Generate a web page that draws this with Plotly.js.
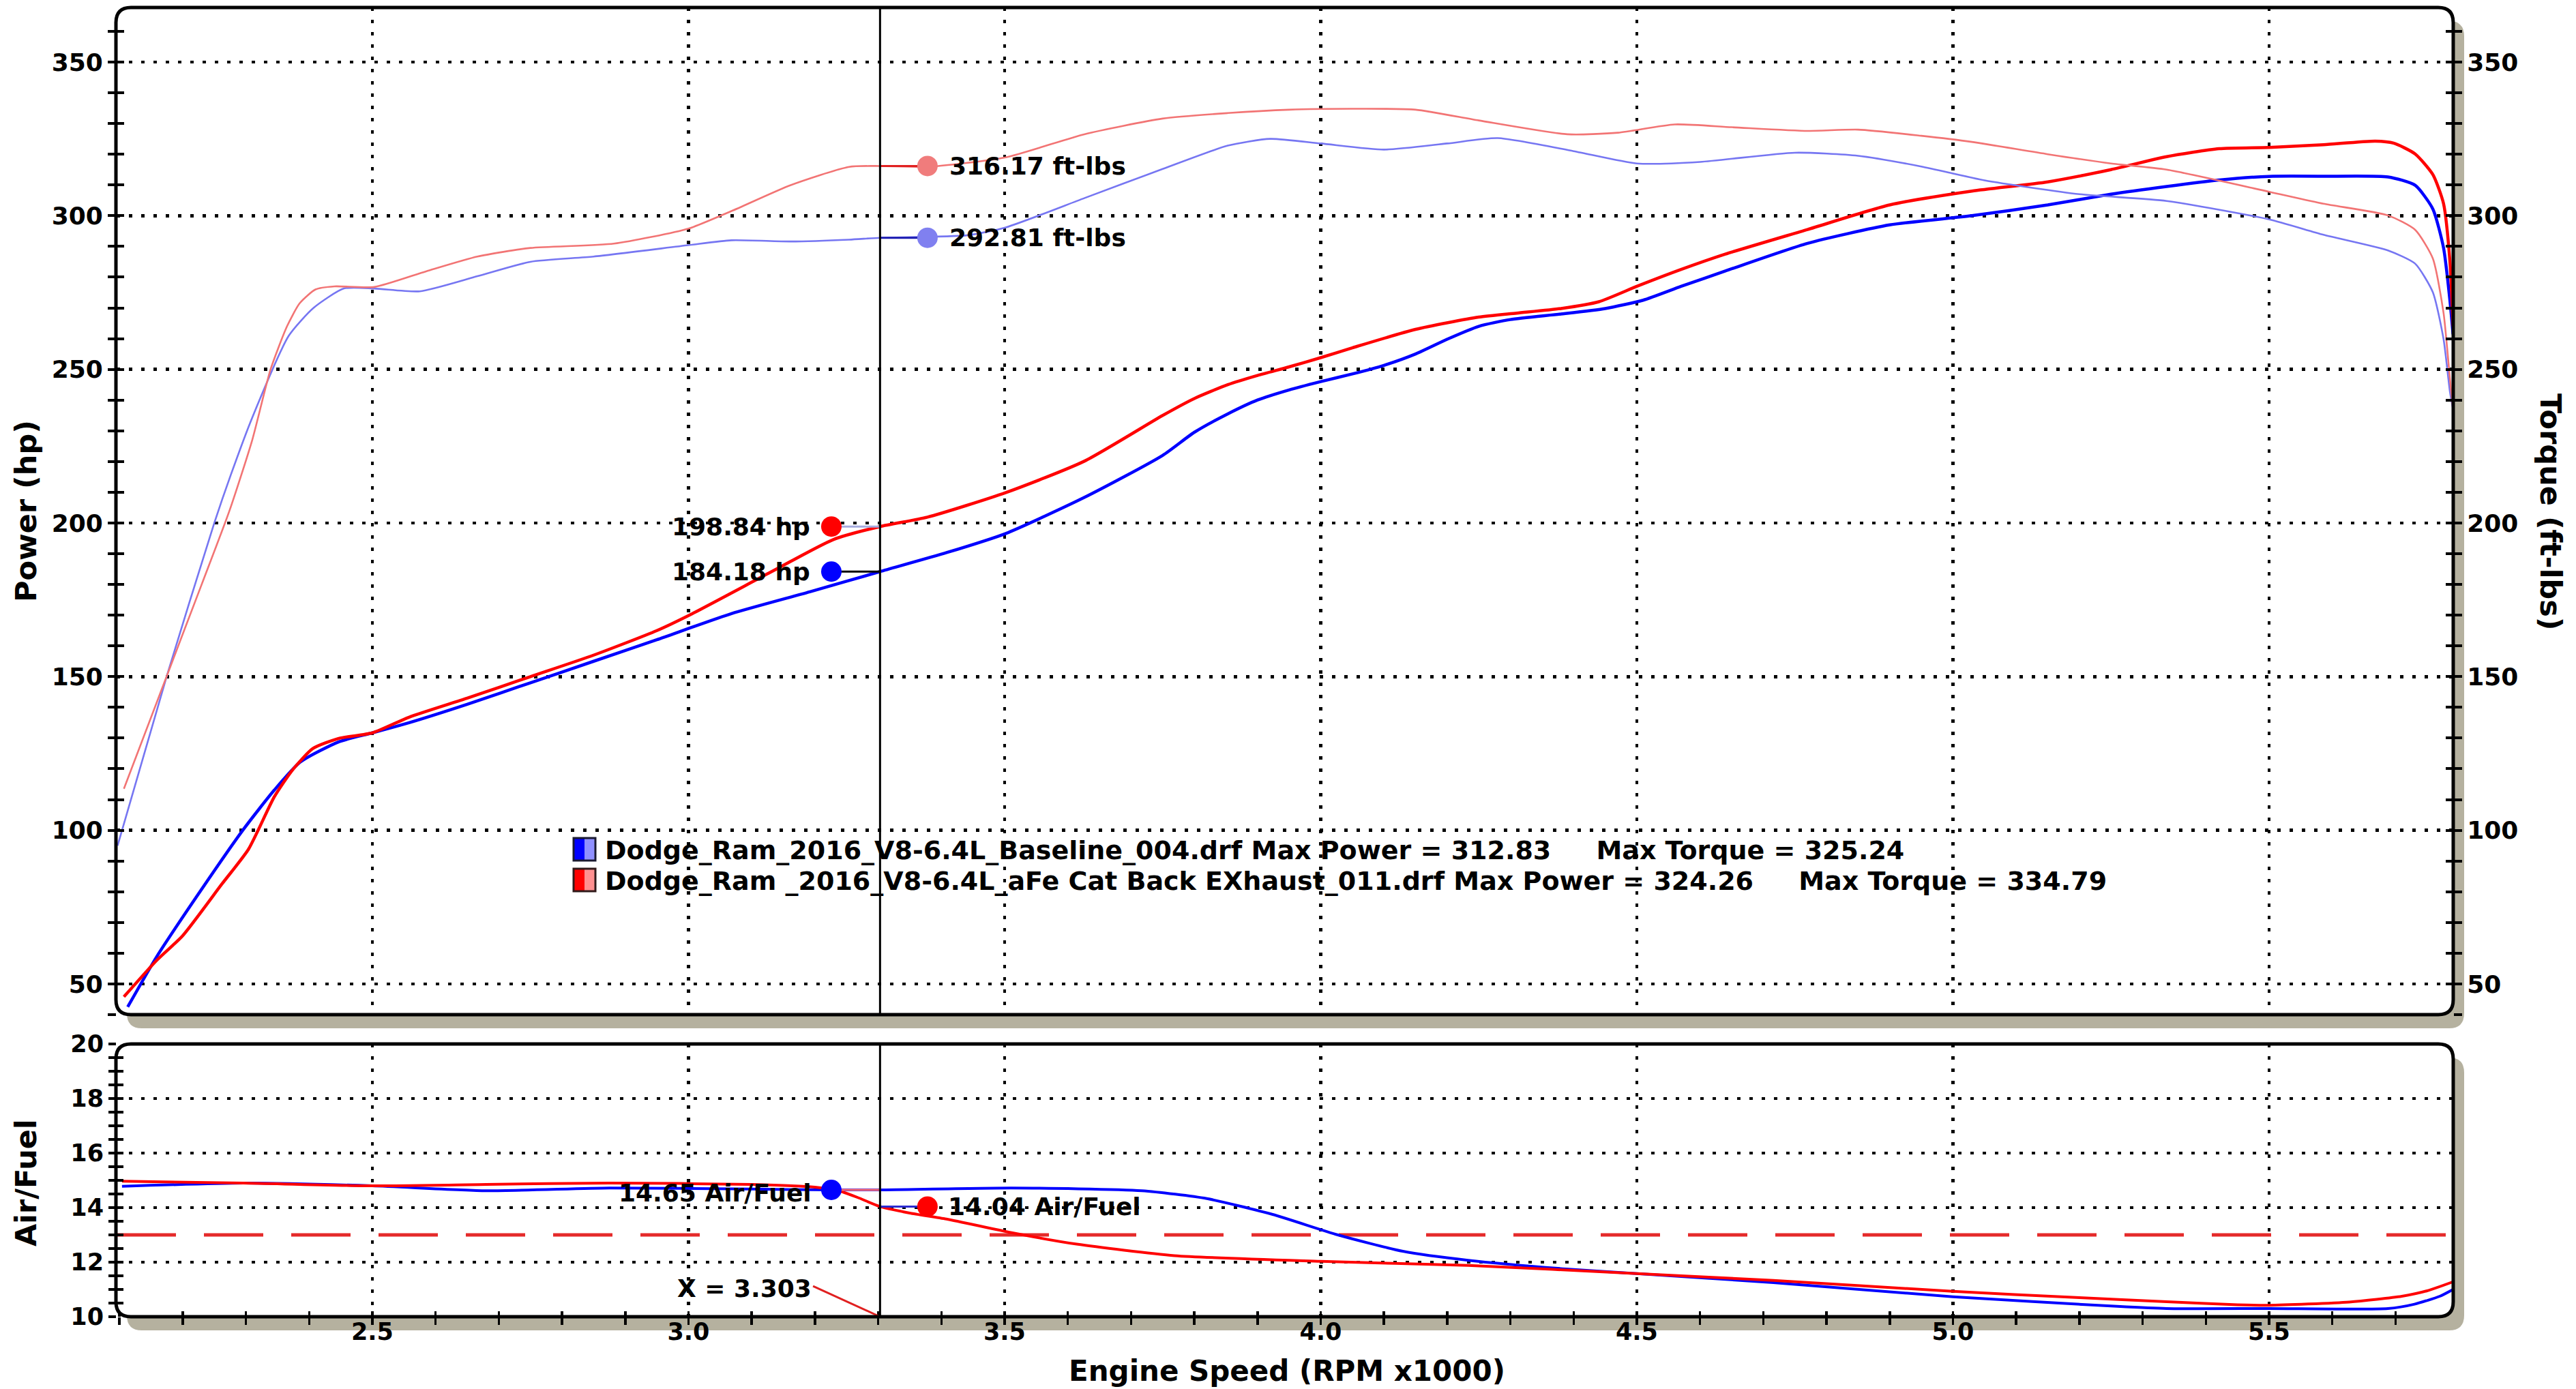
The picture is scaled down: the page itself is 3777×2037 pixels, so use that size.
<!DOCTYPE html>
<html><head><meta charset="utf-8">
<script src="https://cdn.plot.ly/plotly-3.0.1.min.js"></script>
<style>html,body{margin:0;padding:0;background:#fff}#chart{width:3777px;height:2037px}</style>
</head><body><div id="chart"></div>
<script>
// ---------------- DATA ----------------
const rpmPowRed = [2.107,2.159,2.2,2.262,2.304,2.345,2.374,2.406,2.447,2.5,2.558,2.65,2.75,2.85,2.95,3.006,3.13,3.229,3.303,3.378,3.502,3.626,3.75,3.8,3.853,3.9,3.95,4.0,4.05,4.15,4.25,4.31,4.38,4.44,4.5,4.57,4.64,4.77,4.9,5.03,5.15,5.25,5.338,5.421,5.5,5.586,5.668,5.697,5.731,5.759,5.776,5.786,5.791];
const powRed    = [45.8,57.7,65.7,82.5,93.8,110.9,119.7,126.6,129.9,131.7,136.8,143,150,157,165,170.5,184,194.6,198.84,201.9,209.9,220.1,235,240.5,245,248,250.8,253.8,257,263,267,268.3,269.8,272,277,282.5,287.5,295.5,303.5,308,311,315,319.2,321.8,322.2,323.1,324.26,323.6,320.1,313.4,303.9,285.3,264];

const rpmPowBlue = [2.113,2.159,2.221,2.295,2.345,2.386,2.447,2.5,2.558,2.65,2.75,2.85,2.95,3.068,3.192,3.303,3.409,3.502,3.626,3.75,3.8,3.853,3.9,3.95,4.0,4.05,4.1,4.15,4.2,4.25,4.3,4.38,4.45,4.51,4.57,4.64,4.77,4.9,5.03,5.15,5.25,5.338,5.421,5.5,5.586,5.688,5.731,5.759,5.776,5.786,5.791];
const powBlue    = [42.5,58.9,78.1,100,113.1,122.2,128.8,131.7,135,141,148,155,162,170.5,177.6,184.18,190.4,196.6,208.3,222,229.5,235.5,240,243.3,246,248.5,251.3,255,259.8,264,266.2,268,269.8,272.5,277,282,291,297,300,303.5,307,309.5,311.6,312.8,312.83,312.6,309.9,302.2,289.5,272.5,261.4];

const rpmTqRed = [2.107,2.175,2.23,2.274,2.31,2.339,2.365,2.385,2.41,2.44,2.503,2.585,2.666,2.75,2.882,3.0,3.068,3.161,3.254,3.303,3.378,3.502,3.626,3.75,3.853,3.95,4.05,4.15,4.25,4.39,4.47,4.56,4.65,4.77,4.85,4.95,5.03,5.15,5.25,5.338,5.5,5.586,5.688,5.731,5.759,5.776,5.786,5.791];
const tqRed    = [113.5,150.3,180,204,227,250,264,271.5,276,277,276.8,281.9,286.7,289.5,290.9,295.8,301.5,309.9,315.9,316.17,315.9,319,326.5,331.6,333.4,334.5,334.79,334.5,331,326.5,327,329.7,328.8,327.6,328,326,324,320,317,315,307.8,303.9,300.1,295.4,286.1,268.3,247,237];

const rpmTqBlue = [2.097,2.175,2.25,2.276,2.31,2.368,2.407,2.455,2.503,2.575,2.666,2.75,2.85,3.0,3.068,3.161,3.254,3.303,3.44,3.502,3.626,3.75,3.853,3.92,4.0,4.1,4.2,4.28,4.4,4.5,4.6,4.75,4.85,4.95,5.05,5.2,5.338,5.5,5.586,5.688,5.731,5.759,5.776,5.786,5.791];
const tqBlue    = [95,150.3,200,215.6,234.3,261,270,276.3,276.3,275.4,280.3,285,286.7,290.4,292,291.6,292.2,292.81,293.6,296.2,305.7,315.2,322.8,325,323.5,321.5,323.5,325.24,321,317,317.5,320.5,319.5,316,311.5,307,304.8,298.8,293.8,288.7,284.4,275.1,259.8,242.8,237];

const rpmAfRed = [2.104,2.296,2.5,2.68,2.875,3.1,3.2,3.24,3.27,3.303,3.35,3.408,3.511,3.614,3.769,4.0,4.233,4.5,4.716,5.0,5.2,5.338,5.45,5.5,5.627,5.71,5.75,5.791];
const afRed    = [14.97,14.9,14.8,14.85,14.9,14.85,14.75,14.6,14.35,14.04,13.8,13.58,13.08,12.66,12.24,12.03,11.88,11.58,11.33,10.93,10.7,10.55,10.44,10.42,10.54,10.75,10.95,11.28];

const rpmAfBlue = [2.104,2.296,2.5,2.68,2.875,3.1,3.226,3.303,3.511,3.717,3.82,3.924,4.027,4.13,4.233,4.388,4.5,4.716,5.0,5.26,5.338,5.5,5.688,5.73,5.77,5.791];
const afBlue    = [14.78,14.9,14.8,14.62,14.72,14.68,14.65,14.65,14.72,14.62,14.33,13.75,13.0,12.4,12.07,11.75,11.58,11.25,10.73,10.38,10.3,10.3,10.3,10.46,10.75,11.0];

const cursorRpm = 3.303;
const cursorPower  = [198.84, 184.18];   // red, blue
const cursorTorque = [316.17, 292.81];   // red, blue
const cursorAf     = [14.04, 14.65];     // red, blue
const afTarget = 13;
const legendNames = ["Dodge_Ram_2016_V8-6.4L_Baseline_004.drf", "Dodge_Ram _2016_V8-6.4L_aFe Cat Back EXhaust_011.drf"];
const legendMaxPower  = [312.83, 324.26];
const legendMaxTorque = [325.24, 334.79];

// ---------------- LAYOUT HELPERS ----------------
const W=3777,H=2037,ML=171,MR=180,MT=11,MB=106;
const PW=W-ML-MR, PH=H-MT-MB;
const px = v => (v-ML)/PW;
const py = v => 1-(v-MT)/PH;
function roundRect(x0,y0,x1,y1,r){
  const P=(x,y)=>px(x).toFixed(5)+','+py(y).toFixed(5);
  return 'M'+P(x0+r,y0)+' L'+P(x1-r,y0)+' Q'+P(x1,y0)+' '+P(x1,y0+r)+' L'+P(x1,y1-r)+' Q'+P(x1,y1)+' '+P(x1-r,y1)+
         ' L'+P(x0+r,y1)+' Q'+P(x0,y1)+' '+P(x0,y1-r)+' L'+P(x0,y0+r)+' Q'+P(x0,y0)+' '+P(x0+r,y0)+' Z';
}
const FONT='DejaVu Sans';
const fnt=(s)=>({family:FONT,size:s,color:'#000',weight:'bold'});
const xRange=[2.0955,5.7913];
const yRange=[40,367.75];
const afRange=[10,20];
const leftOff = 0.077, rightOff = 0.075;
const xL = cursorRpm-leftOff, xR = cursorRpm+rightOff;

const RED='#ff0000', BLUE='#0000ff', LRED='#f27474', LBLUE='#7676f2';
const sp=(c,w)=>({color:c,width:w,shape:'spline',smoothing:0.6});

const traces=[
 {x:rpmTqBlue,y:tqBlue,xaxis:'x',yaxis:'y3',mode:'lines',line:sp(LBLUE,2.6),hoverinfo:'skip'},
 {x:rpmTqRed,y:tqRed,xaxis:'x',yaxis:'y3',mode:'lines',line:sp(LRED,2.6),hoverinfo:'skip'},
 {x:rpmPowBlue,y:powBlue,xaxis:'x',yaxis:'y',mode:'lines',line:sp(BLUE,4.5),hoverinfo:'skip'},
 {x:rpmPowRed,y:powRed,xaxis:'x',yaxis:'y',mode:'lines',line:sp(RED,4.5),hoverinfo:'skip'},
 {x:rpmAfBlue,y:afBlue,xaxis:'x',yaxis:'y2',mode:'lines',line:sp(BLUE,4),hoverinfo:'skip'},
 {x:rpmAfRed,y:afRed,xaxis:'x',yaxis:'y2',mode:'lines',line:sp(RED,4),hoverinfo:'skip'},
 {x:[xL,cursorRpm],y:[cursorPower[0],cursorPower[0]],xaxis:'x',yaxis:'y',mode:'lines',line:{color:'#a6acdf',width:3},hoverinfo:'skip'},
 {x:[xL,cursorRpm],y:[cursorPower[1],cursorPower[1]],xaxis:'x',yaxis:'y',mode:'lines',line:{color:'#000',width:3},hoverinfo:'skip'},
 {x:[cursorRpm,xR],y:[cursorTorque[0],cursorTorque[0]],xaxis:'x',yaxis:'y3',mode:'lines',line:{color:'#e02020',width:3},hoverinfo:'skip'},
 {x:[cursorRpm,xR],y:[cursorTorque[1],cursorTorque[1]],xaxis:'x',yaxis:'y3',mode:'lines',line:{color:'#1c1cb0',width:3},hoverinfo:'skip'},
 {x:[xL,cursorRpm],y:[cursorAf[1],cursorAf[1]],xaxis:'x',yaxis:'y2',mode:'lines',line:{color:'#ff7070',width:3},hoverinfo:'skip'},
 {x:[cursorRpm,xR],y:[cursorAf[0],cursorAf[0]],xaxis:'x',yaxis:'y2',mode:'lines',line:{color:'#2a2ad0',width:3},hoverinfo:'skip'},
 {x:[xL,xL],y:cursorPower,xaxis:'x',yaxis:'y',mode:'markers',marker:{size:30,color:[RED,BLUE]},hoverinfo:'skip'},
 {x:[xR,xR],y:cursorTorque,xaxis:'x',yaxis:'y3',mode:'markers',marker:{size:30,color:['#f07c7c','#8080f0']},hoverinfo:'skip'},
 {x:[xR],y:[cursorAf[0]],xaxis:'x',yaxis:'y2',mode:'markers',marker:{size:30,color:RED},hoverinfo:'skip'},
 {x:[xL],y:[cursorAf[1]],xaxis:'x',yaxis:'y2',mode:'markers',marker:{size:30,color:BLUE},hoverinfo:'skip'},
 {x:[],y:[],xaxis:'x',yaxis:'y4'},{x:[],y:[],xaxis:'x',yaxis:'y5'},{x:[],y:[],xaxis:'x',yaxis:'y6'},{x:[],y:[],xaxis:'x2',yaxis:'y2'}
];

const grid={showgrid:true,gridcolor:'#000',gridwidth:4.5,griddash:'5px,13px'};
const topDom=[py(1488),1], botDom=[0,py(1531)];
const layout={
 width:W,height:H,margin:{l:ML,r:MR,t:MT,b:MB},
 paper_bgcolor:'#fff',plot_bgcolor:'rgba(0,0,0,0)',showlegend:false,
 xaxis:Object.assign({range:xRange,anchor:'y2',tickmode:'linear',tick0:0,dtick:0.5,tickformat:'.1f',
   ticks:'outside',ticklen:11,tickwidth:3.5,tickcolor:'#000',tickfont:fnt(35),ticklabelstandoff:-20,showline:false,zeroline:false,
   minor:{tickmode:'linear',tick0:0,dtick:0.1,ticks:'outside',ticklen:11,tickwidth:3.5,tickcolor:'#000',showgrid:false}},grid),
 xaxis2:{range:xRange,overlaying:'x',anchor:'y2',side:'bottom',tickmode:'linear',tick0:0,dtick:0.1,ticks:'inside',ticklen:8,tickwidth:3.5,tickcolor:'#000',showticklabels:false,showgrid:false,zeroline:false,showline:false},
 yaxis:Object.assign({domain:topDom,range:yRange,anchor:'x',tickmode:'linear',tick0:0,dtick:50,ticks:'outside',ticklen:12,tickwidth:4,tickcolor:'#000',
   tickfont:fnt(36),showline:false,zeroline:false,
   minor:{tickmode:'linear',tick0:0,dtick:10,ticks:'outside',ticklen:12,tickwidth:4,tickcolor:'#000',showgrid:false}},grid),
 yaxis3:{overlaying:'y',side:'right',anchor:'x',range:yRange,tickmode:'linear',tick0:0,dtick:50,ticks:'outside',ticklen:12,tickwidth:4,tickcolor:'#000',
   tickfont:fnt(36),showline:false,zeroline:false,showgrid:false,
   minor:{tickmode:'linear',tick0:0,dtick:10,ticks:'outside',ticklen:12,tickwidth:4,tickcolor:'#000',showgrid:false}},
 yaxis4:{overlaying:'y',side:'left',anchor:'x',range:yRange,tickmode:'linear',tick0:0,dtick:10,ticks:'inside',ticklen:11,tickwidth:4,tickcolor:'#000',showticklabels:false,showgrid:false,zeroline:false,showline:false},
 yaxis5:{overlaying:'y',side:'right',anchor:'x',range:yRange,tickmode:'linear',tick0:0,dtick:10,ticks:'inside',ticklen:11,tickwidth:4,tickcolor:'#000',showticklabels:false,showgrid:false,zeroline:false,showline:false},
 yaxis2:Object.assign({domain:botDom,range:afRange,anchor:'x',tickmode:'linear',tick0:0,dtick:2,ticks:'outside',ticklen:11,tickwidth:3.5,tickcolor:'#000',
   tickfont:fnt(35),showline:false,zeroline:false,
   minor:{tickmode:'linear',tick0:0,dtick:0.5,ticks:'outside',ticklen:11,tickwidth:3.5,tickcolor:'#000',showgrid:false}},grid),
 yaxis6:{overlaying:'y2',side:'left',anchor:'x',range:afRange,tickmode:'linear',tick0:0,dtick:0.5,ticks:'inside',ticklen:10,tickwidth:3.5,tickcolor:'#000',showticklabels:false,showgrid:false,zeroline:false,showline:false},
 shapes:[
  {type:'path',xref:'paper',yref:'paper',layer:'below',path:roundRect(186,31,3613,1508,22),fillcolor:'#b5b19f',line:{width:0}},
  {type:'path',xref:'paper',yref:'paper',layer:'below',path:roundRect(186,1551,3613,1951,22),fillcolor:'#b5b19f',line:{width:0}},
  {type:'path',xref:'paper',yref:'paper',layer:'below',path:roundRect(170,11,3597,1488,22),fillcolor:'#fff',line:{width:0}},
  {type:'path',xref:'paper',yref:'paper',layer:'below',path:roundRect(170,1531,3597,1931,22),fillcolor:'#fff',line:{width:0}},
  {type:'line',xref:'x domain',yref:'y2',x0:0,x1:1,y0:afTarget,y1:afTarget,layer:'below',line:{color:'#e52a2a',width:5,dash:'87px,41px'}},
  {type:'line',xref:'x',yref:'y domain',x0:cursorRpm,x1:cursorRpm,y0:0,y1:1,layer:'above',line:{color:'#000',width:3}},
  {type:'line',xref:'x',yref:'y2 domain',x0:cursorRpm,x1:cursorRpm,y0:0,y1:1,layer:'above',line:{color:'#000',width:3}},
  {type:'line',xref:'x',yref:'y2',x0:cursorRpm-0.106,y0:11.12,x1:cursorRpm,y1:10,layer:'above',line:{color:'#e02020',width:3}},
  {type:'path',xref:'paper',yref:'paper',layer:'above',path:roundRect(170,11,3597,1488,22),fillcolor:'rgba(0,0,0,0)',line:{color:'#000',width:5}},
  {type:'path',xref:'paper',yref:'paper',layer:'above',path:roundRect(170,1531,3597,1931,22),fillcolor:'rgba(0,0,0,0)',line:{color:'#000',width:5}},
  {type:'rect',xref:'paper',yref:'paper',x0:px(841),x1:px(857),y0:py(1262),y1:py(1229),fillcolor:'#0000ff',line:{width:0}},
  {type:'rect',xref:'paper',yref:'paper',x0:px(857),x1:px(873),y0:py(1262),y1:py(1229),fillcolor:'#9090ff',line:{width:0}},
  {type:'rect',xref:'paper',yref:'paper',x0:px(841),x1:px(873),y0:py(1262),y1:py(1229),fillcolor:'rgba(0,0,0,0)',line:{color:'#1a1a30',width:3}},
  {type:'rect',xref:'paper',yref:'paper',x0:px(841),x1:px(857),y0:py(1307),y1:py(1274),fillcolor:'#ff0000',line:{width:0}},
  {type:'rect',xref:'paper',yref:'paper',x0:px(857),x1:px(873),y0:py(1307),y1:py(1274),fillcolor:'#ff9090',line:{width:0}},
  {type:'rect',xref:'paper',yref:'paper',x0:px(841),x1:px(873),y0:py(1307),y1:py(1274),fillcolor:'rgba(0,0,0,0)',line:{color:'#301a1a',width:3}}
 ],
 annotations:[
  {xref:'paper',yref:'paper',x:px(38),y:py(750),text:'Power (hp)',textangle:-90,showarrow:false,font:fnt(43),xanchor:'center',yanchor:'middle'},
  {xref:'paper',yref:'paper',x:px(3740),y:py(750),text:'Torque (ft-lbs)',textangle:90,showarrow:false,font:fnt(43),xanchor:'center',yanchor:'middle'},
  {xref:'paper',yref:'paper',x:px(38),y:py(1735),text:'Air/Fuel',textangle:-90,showarrow:false,font:fnt(43),xanchor:'center',yanchor:'middle'},
  {xref:'paper',yref:'paper',x:px(1887),y:py(2010),text:'Engine Speed (RPM x1000)',showarrow:false,font:fnt(42),xanchor:'center',yanchor:'middle'},
  {xref:'paper',yref:'paper',x:px(885),y:py(1247),xanchor:'left',yanchor:'middle',showarrow:false,font:fnt(38),
   text:`${legendNames[0]} Max Power = ${legendMaxPower[0].toFixed(2)}\u00a0\u00a0\u00a0\u00a0\u00a0Max Torque = ${legendMaxTorque[0].toFixed(2)}`},
  {xref:'paper',yref:'paper',x:px(885),y:py(1292),xanchor:'left',yanchor:'middle',showarrow:false,font:fnt(38),
   text:`${legendNames[1]} Max Power = ${legendMaxPower[1].toFixed(2)}\u00a0\u00a0\u00a0\u00a0\u00a0Max Torque = ${legendMaxTorque[1].toFixed(2)}`},
  {xref:'x',yref:'y',x:xL,y:cursorPower[0],xshift:-29,xanchor:'right',yanchor:'middle',showarrow:false,font:fnt(36),text:`${cursorPower[0].toFixed(2)} hp`},
  {xref:'x',yref:'y',x:xL,y:cursorPower[1],xshift:-29,xanchor:'right',yanchor:'middle',showarrow:false,font:fnt(36),text:`${cursorPower[1].toFixed(2)} hp`},
  {xref:'x',yref:'y3',x:xR,y:cursorTorque[0],xshift:30,xanchor:'left',yanchor:'middle',showarrow:false,font:fnt(36),text:`${cursorTorque[0].toFixed(2)} ft-lbs`},
  {xref:'x',yref:'y3',x:xR,y:cursorTorque[1],xshift:30,xanchor:'left',yanchor:'middle',showarrow:false,font:fnt(36),text:`${cursorTorque[1].toFixed(2)} ft-lbs`},
  {xref:'x',yref:'y2',x:xL,y:cursorAf[1],xshift:-27,yshift:-4,xanchor:'right',yanchor:'middle',showarrow:false,font:fnt(36),text:`${cursorAf[1].toFixed(2)} Air/Fuel`},
  {xref:'x',yref:'y2',x:xR,y:cursorAf[0],xshift:28,xanchor:'left',yanchor:'middle',showarrow:false,font:fnt(36),text:`${cursorAf[0].toFixed(2)} Air/Fuel`},
  {xref:'x',yref:'y2',x:cursorRpm,y:11.05,xshift:-98,xanchor:'right',yanchor:'middle',showarrow:false,font:fnt(36),text:`X = ${cursorRpm.toFixed(3)}`}
 ]
};
traces.forEach(t=>{t.showlegend=false;});
Plotly.newPlot('chart',traces,layout,{displayModeBar:false,staticPlot:true});
</script></body></html>
